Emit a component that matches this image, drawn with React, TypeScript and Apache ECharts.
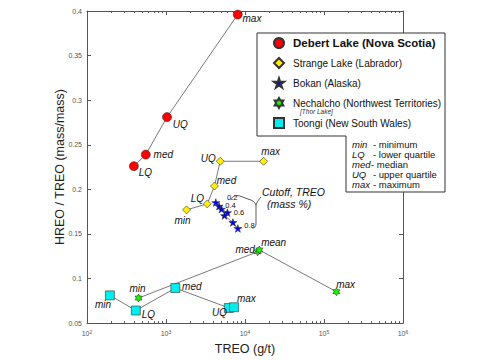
import React, { useEffect, useRef } from "react";
import * as echarts from "echarts";

// ---------- data ----------
const debertTREO = [392, 555, 1030, 8090];
const debertRatio = [0.226, 0.239, 0.281, 0.396];
const debertLabels = ["LQ", "med", "UQ", "max"];

const strangeTREO = [1820, 3330, 4110, 4850, 17200];
const strangeRatio = [0.177, 0.1837, 0.2037, 0.2315, 0.2315];
const strangeLabels = ["min", "LQ", "med", "UQ", "max"];

const bokanTREO = [4270, 4690, 5040, 6000, 5500, 7030, 8130];
const bokanRatio = [0.1852, 0.1811, 0.1778, 0.1739, 0.1706, 0.1628, 0.1561];
const bokanLabels = ["0.2", "0.4", "", "0.6", "", "", "0.8"];

const nechalchoTREO = [449, 14450, 15200, 143600];
const nechalchoRatio = [0.0781, 0.13, 0.132, 0.0852];
const nechalchoLabels = ["min", "med", "mean", "max"];

const toongiTREO = [195, 415, 1312, 6240, 7280];
const toongiRatio = [0.0811, 0.0641, 0.0893, 0.067, 0.0678];
const toongiLabels = ["min", "LQ", "med", "UQ", "max"];

const seriesNames = [
  "Debert Lake (Nova Scotia)",
  "Strange Lake (Labrador)",
  "Bokan (Alaska)",
  "Nechalcho (Northwest Territories)",
  "Toongi (New South Wales)",
];

const abbrevShort = ["min", "LQ", "med", "UQ", "max"];
const abbrevLong = ["- minimum", "- lower quartile", "- median", "- upper quartile", "- maximum"];

// ---------- styles ----------
const FONT = '"Liberation Sans", Arial, Helvetica, sans-serif';
const STAR =
  "path://M50,0 L61.2,34.5 L97.6,34.5 L68.2,55.9 L79.4,90.5 L50,69.1 L20.6,90.5 L31.8,55.9 L2.4,34.5 L38.8,34.5 Z";
const HEX =
  "path://M50,0 L64.4,25 L93.3,25 L78.9,50 L93.3,75 L64.4,75 L50,100 L35.6,75 L6.7,75 L21.1,50 L6.7,25 L35.6,25 Z";

type Place = [string, number, number];
const debertPlace: Place[] = [
  ["right", -5, 6],
  ["right", -2, 0],
  ["right", -4, 7],
  ["right", -5, 4],
];
const strangePlace: Place[] = [
  ["bottom", -4, -4],
  ["left", 6, -5],
  ["right", -7, -6],
  ["left", 5, -3],
  ["top", 7, 5],
];
const bokanPlace: Place[] = [
  ["right", 2, -5],
  ["right", -3, -1],
  ["right", 0, 0],
  ["right", -3, 0],
  ["right", 0, 0],
  ["right", 0, 0],
  ["right", -3, -3],
];
const nechalchoPlace: Place[] = [
  ["top", -1, 5],
  ["left", 6, -2],
  ["right", -7, -7],
  ["right", -9, -7],
];
const toongiPlace: Place[] = [
  ["left", 11, 9],
  ["right", -4, 4],
  ["right", -3, -2],
  ["left", 8, 5],
  ["right", -7, -9],
];

function makeSeries(
  name: string,
  xs: number[],
  ys: number[],
  labels: string[],
  place: Place[],
  symbol: string,
  size: number,
  color: string,
  italic: boolean,
  labelSize: number
) {
  return {
    type: "line",
    name,
    symbol,
    symbolSize: size,
    symbolKeepAspect: true,
    showSymbol: true,
    lineStyle: { color: "#555", width: 0.8 },
    itemStyle: { color, borderColor: "#333", borderWidth: 0.6 },
    label: {
      show: true,
      formatter: "{b}",
      fontFamily: FONT,
      fontStyle: italic ? "italic" : "normal",
      fontSize: labelSize,
      color: "#111",
    },
    z: 3,
    data: xs.map((x, i) => ({
      value: [x, ys[i]],
      name: labels[i],
      label: { position: place[i][0], offset: [place[i][1], place[i][2]] },
    })),
  };
}

echarts.graphic.registerShape(
  "brace",
  echarts.graphic.extendPath(
    "M231,200 C232,196 236,195 240,196 L248,199 C252,200 255,202 256,205 C257,202 259,199 261,197 M256,205 L256,224 C256,227 254,228 252,228",
    {}
  )
);

export default function App() {
  const ref = useRef<HTMLDivElement>(null);
  useEffect(() => {
    if (!ref.current) return;
    const chart = echarts.init(ref.current, null, { renderer: "svg" });
    const axisLineStyle = { color: "#555", width: 1 };
    const option: any = {
      animation: false,
      backgroundColor: "#fff",
      textStyle: { fontFamily: FONT },
      grid: { left: 87, top: 11, right: 82, bottom: 34 },
      xAxis: [
        {
          type: "log",
          logBase: 10,
          min: 100,
          max: 1000000,
          name: "TREO (g/t)",
          nameLocation: "middle",
          nameGap: 15,
          nameTextStyle: { fontSize: 12.5, color: "#222", fontFamily: FONT },
          axisLine: { lineStyle: axisLineStyle },
          axisTick: { inside: true, length: 4, lineStyle: axisLineStyle },
          minorTick: { show: true, splitNumber: 9, length: 2, lineStyle: axisLineStyle },
          splitLine: { show: false },
          minorSplitLine: { show: false },
          axisLabel: {
            margin: 6,
            color: "#555",
            fontSize: 7,
            formatter: (v: number) => `10{s|${Math.round(Math.log10(v))}}`,
            rich: { s: { fontSize: 5, color: "#555", padding: [0, 0, 4, 0] } },
          },
        },
        {
          type: "log",
          logBase: 10,
          min: 100,
          max: 1000000,
          position: "top",
          axisLine: { lineStyle: axisLineStyle },
          axisTick: { inside: true, length: 4, lineStyle: axisLineStyle },
          minorTick: { show: true, splitNumber: 9, length: 2, lineStyle: axisLineStyle },
          splitLine: { show: false },
          axisLabel: { show: false },
        },
      ],
      yAxis: [
        {
          type: "value",
          min: 0.05,
          max: 0.4,
          interval: 0.05,
          name: "HREO / TREO (mass/mass)",
          nameLocation: "middle",
          nameGap: 21,
          nameMoveOverlap: false,
          nameTextStyle: { fontSize: 12.5, color: "#222", fontFamily: FONT },
          axisLine: { show: true, lineStyle: axisLineStyle },
          axisTick: { show: true, inside: true, length: 4, lineStyle: axisLineStyle },
          splitLine: { show: false },
          axisLabel: { color: "#555", fontSize: 7, margin: 5 },
        },
        {
          type: "value",
          min: 0.05,
          max: 0.4,
          interval: 0.05,
          position: "right",
          axisLine: { show: true, lineStyle: axisLineStyle },
          axisTick: { show: true, inside: true, length: 4, lineStyle: axisLineStyle },
          splitLine: { show: false },
          axisLabel: { show: false },
        },
      ],
      legend: {
        orient: "vertical",
        left: 273,
        top: 33,
        padding: 0,
        itemWidth: 10,
        itemHeight: 10,
        itemGap: 0,
        selectedMode: false,
        z: 60,
        textStyle: { fontSize: 10, lineHeight: 20, color: "#111", fontFamily: FONT, padding: [0, 0, 0, 4] },
        data: [
          { name: seriesNames[0], icon: "circle", textStyle: { fontWeight: "bold", fontSize: 11.5 } },
          { name: seriesNames[1], icon: "diamond" },
          { name: seriesNames[2], icon: STAR },
          { name: seriesNames[3], icon: HEX },
          { name: seriesNames[4], icon: "rect" },
        ],
      },
      graphic: [
        {
          type: "polygon",
          z: 50,
          shape: {
            points: [
              [257, 33],
              [445, 33],
              [445, 192],
              [346, 192],
              [346, 136],
              [257, 136],
            ],
          },
          style: { fill: "#fff", stroke: "#333", lineWidth: 1 },
        },
        {
          type: "text",
          z: 60,
          x: 300,
          y: 111,
          style: { text: "[Thor Lake]", font: `italic 6.5px ${FONT}`, fill: "#333", verticalAlign: "middle" },
        },
        ...abbrevShort.map((s, i) => ({
          type: "text",
          z: 60,
          x: 352,
          y: 144 + i * 10,
          style: { text: s, font: `italic 9.5px ${FONT}`, fill: "#111", verticalAlign: "middle" },
        })),
        ...abbrevLong.map((s, i) => ({
          type: "text",
          z: 60,
          x: i === 2 ? 371 : 373,
          y: 144 + i * 10,
          style: { text: s, font: `9.5px ${FONT}`, fill: "#111", verticalAlign: "middle" },
        })),
        {
          type: "text",
          z: 60,
          x: 262,
          y: 192,
          style: { text: "Cutoff, TREO", font: `italic 10.5px ${FONT}`, fill: "#111", verticalAlign: "middle" },
        },
        {
          type: "text",
          z: 60,
          x: 267,
          y: 204,
          style: { text: "(mass %)", font: `italic 10.5px ${FONT}`, fill: "#111", verticalAlign: "middle" },
        },
        {
          type: "brace",
          z: 60,
          x: 0,
          y: 0,
          style: { fill: "none", stroke: "#333", lineWidth: 0.8 },
        },
      ],
      series: [
        makeSeries(seriesNames[0], debertTREO, debertRatio, debertLabels, debertPlace, "circle", 9, "#ff0000", true, 10),
        makeSeries(seriesNames[1], strangeTREO, strangeRatio, strangeLabels, strangePlace, "diamond", 8, "#ffee00", true, 10),
        makeSeries(seriesNames[2], bokanTREO, bokanRatio, bokanLabels, bokanPlace, STAR, 8, "#0000ee", false, 7.5),
        makeSeries(seriesNames[3], nechalchoTREO, nechalchoRatio, nechalchoLabels, nechalchoPlace, HEX, 8, "#22ee00", true, 10),
        makeSeries(seriesNames[4], toongiTREO, toongiRatio, toongiLabels, toongiPlace, "rect", 9, "#00eeee", true, 10),
      ],
    };
    chart.setOption(option);
    return () => chart.dispose();
  }, []);
  return <div ref={ref} style={{ width: 485, height: 360, position: "absolute", left: 0, top: 0 }} />;
}
